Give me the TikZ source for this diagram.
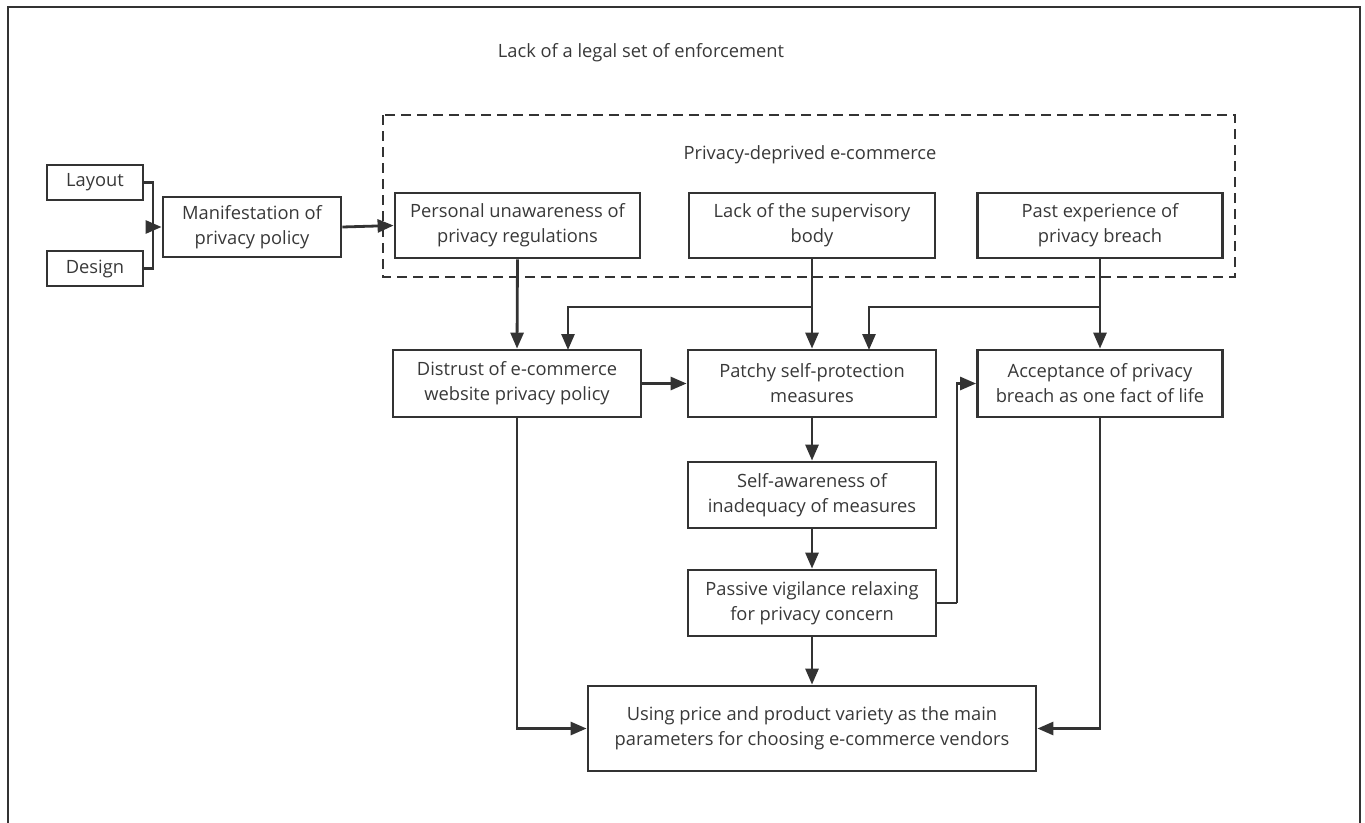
\documentclass[tikz,border=0pt]{standalone}
\usepackage{fontspec}
\setmainfont{Open Sans}
\usetikzlibrary{arrows.meta}
\definecolor{ln}{HTML}{333333}
\definecolor{tx}{HTML}{383838}
\tikzset{
  bx/.style={draw=ln, line width=2.8pt, align=center, inner sep=0pt, text=tx,
    font=\fontsize{18.3}{25}\selectfont},
  arr/.style={draw=ln, line width=2.8pt, -{Triangle[length=16pt,width=13pt]}},
  ln/.style={draw=ln, line width=2.8pt},
  lbl/.style={text=tx, font=\fontsize{18.3}{25}\selectfont}
}
\begin{document}
\begin{tikzpicture}[x=1pt,y=-1pt]
\useasboundingbox (0,0) rectangle (1365,822);
\draw[ln] (8,840) -- (8,7) -- (1360,7) -- (1360,840);
\node[lbl] (title) at (641,53) {Lack of a legal set of enforcement};
\draw[ln, dash pattern=on 10pt off 6pt] (383,115) rectangle (1235,277);
\node[lbl] (dlabel) at (810,155) {Privacy-deprived e-commerce};

\node[bx, minimum width=96pt, minimum height=35pt] (layout) at (95,182.5) {Layout};
\node[bx, minimum width=96pt, minimum height=35pt] (design) at (95,268.5) {Design};
\node[bx, minimum width=178pt, minimum height=60pt] (manif) at (252,227) {Manifestation of\\privacy policy};
\node[bx, minimum width=245pt, minimum height=65pt] (personal) at (517.5,225.5) {Personal unawareness of\\privacy regulations};
\node[bx, minimum width=246pt, minimum height=65pt] (lack) at (812,225.5) {Lack of the supervisory\\body};
\node[bx, minimum width=245pt, minimum height=65pt] (past) at (1100,225.5) {Past experience of\\privacy breach};
\node[bx, minimum width=248pt, minimum height=67pt] (distrust) at (517,383.5) {Distrust of e-commerce\\website privacy policy};
\node[bx, minimum width=248pt, minimum height=67pt] (patchy) at (812,383.5) {Patchy self-protection\\measures};
\node[bx, minimum width=245pt, minimum height=67pt] (accept) at (1100,383.5) {Acceptance of privacy\\breach as one fact of life};
\node[bx, minimum width=248pt, minimum height=66pt] (selfaw) at (812,495) {Self-awareness of\\inadequacy of measures};
\node[bx, minimum width=248pt, minimum height=66pt] (passive) at (812,603) {Passive vigilance relaxing\\for privacy concern};
\node[bx, minimum width=448pt, minimum height=85pt] (using) at (812,728.5) {Using price and product variety as the main\\parameters for choosing e-commerce vendors};

% inputs to manifestation
\coordinate (jm) at (153,227);
\draw[ln] (layout.east) -| (jm) |- (design.east);
\draw[arr] (jm) -- (manif.west);
\draw[arr] (manif.east) -- (personal.west);

% row 1 to row 2
\draw[arr] (personal.south) -- (distrust.north);
\draw[arr] (lack.south) -- (patchy.north);
\coordinate (j1) at (812,307);
\coordinate (d2) at (568,350);
\draw[arr] (j1) -| (d2);
\draw[arr] (past.south) -- (accept.north);
\coordinate (j2) at (1100,307);
\coordinate (p2) at (869,350);
\draw[arr] (j2) -| (p2);

\draw[arr] (distrust.east) -- (patchy.west);
\draw[arr] (patchy.south) -- (selfaw.north);
\draw[arr] (selfaw.south) -- (passive.north);
\draw[arr] (passive.south) -- (using.north);

\coordinate (pa) at (957,603);
\draw[ln] (passive.east) -- (pa);
\draw[arr] (pa) |- (accept.west);

\draw[arr] (distrust.south) |- (using.west);
\draw[arr] (accept.south) |- (using.east);
\end{tikzpicture}
\end{document}
